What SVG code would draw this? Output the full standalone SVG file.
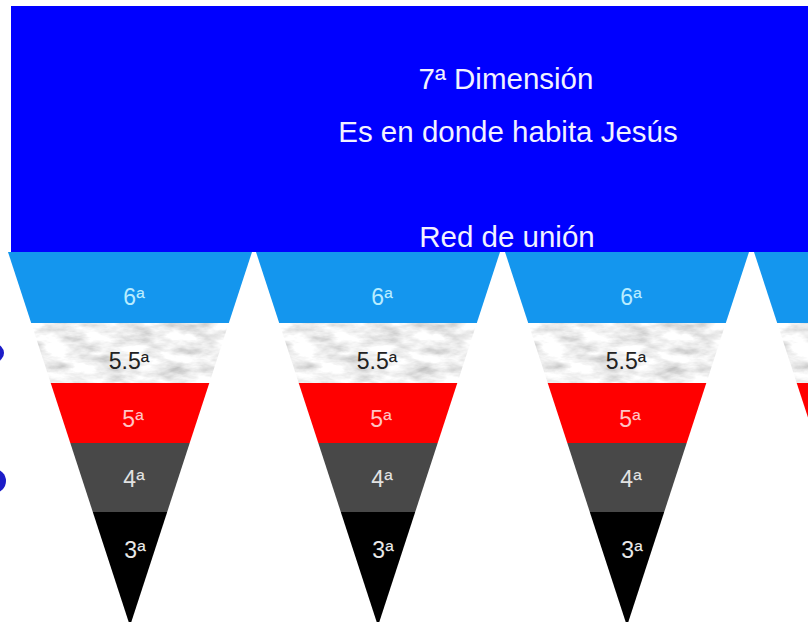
<svg xmlns="http://www.w3.org/2000/svg" xmlns:xlink="http://www.w3.org/1999/xlink" width="808" height="622" viewBox="0 0 808 622">
<style>
.hdr{font-family:"Liberation Sans",Arial,sans-serif;font-size:29.5px;fill:#f2f2ff;text-anchor:middle}
.lbl{font-family:"Liberation Sans",Arial,sans-serif;font-size:23px;text-anchor:middle}
.l6{fill:#b8ecff}.l55{fill:#222222}.l5{fill:#ffc4c4}.l4{fill:#e2e2e2}.l3{fill:#e8e8e8}
.b6{fill:#1496ee}.b5{fill:#ff0000}.b4{fill:#484848}.b3{fill:#000000}.bm{fill:#dddddd}
</style>
<defs>
<filter id="marble" x="0" y="0" width="1" height="1" filterUnits="objectBoundingBox">
<feTurbulence type="fractalNoise" baseFrequency="0.035 0.09" numOctaves="4" seed="7" result="n"/>
<feColorMatrix in="n" type="matrix" values="0.9 0 0 0 0.42  0.9 0 0 0 0.42  0.9 0 0 0 0.42  0 0 0 0 1" result="g"/>
<feComposite in="g" in2="SourceGraphic" operator="in"/>
</filter>
<g id="tri">
<polygon class="b6" points="-122,252 122,252 98.8,323 -98.8,323"/>
<polygon class="bm" filter="url(#marble)" points="-98.8,323 98.8,323 79.3,383 -79.3,383"/>
<polygon class="b5" points="-79.3,383 79.3,383 59.7,443 -59.7,443"/>
<polygon class="b4" points="-59.7,443 59.7,443 37.2,512 -37.2,512"/>
<polygon class="b3" points="-37.2,512 37.2,512 0,626"/>
</g>
</defs>
<rect x="0" y="0" width="808" height="622" fill="#ffffff"/>
<g id="dimension7">
<rect x="11" y="6" width="797" height="246" fill="#0000ff"/>
<text class="hdr" x="506" y="89">7ª Dimensión</text>
<text class="hdr" x="508" y="142">Es en donde habita Jesús</text>
<text class="hdr" x="507" y="247">Red de unión</text>
</g>
<g id="cone1" transform="translate(130,0)">
<use xlink:href="#tri" href="#tri"/>
<text class="lbl l6" x="4" y="305">6ª</text>
<text class="lbl l55" x="-1" y="369">5.5ª</text>
<text class="lbl l5" x="3" y="427">5ª</text>
<text class="lbl l4" x="4" y="487">4ª</text>
<text class="lbl l3" x="5" y="558">3ª</text>
</g>
<g id="cone2" transform="translate(378,0)">
<use xlink:href="#tri" href="#tri"/>
<text class="lbl l6" x="4" y="305">6ª</text>
<text class="lbl l55" x="-1" y="369">5.5ª</text>
<text class="lbl l5" x="3" y="427">5ª</text>
<text class="lbl l4" x="4" y="487">4ª</text>
<text class="lbl l3" x="5" y="558">3ª</text>
</g>
<g id="cone3" transform="translate(627,0)">
<use xlink:href="#tri" href="#tri"/>
<text class="lbl l6" x="4" y="305">6ª</text>
<text class="lbl l55" x="-1" y="369">5.5ª</text>
<text class="lbl l5" x="3" y="427">5ª</text>
<text class="lbl l4" x="4" y="487">4ª</text>
<text class="lbl l3" x="5" y="558">3ª</text>
</g>
<g id="cone4" transform="translate(876,0)">
<use xlink:href="#tri" href="#tri"/>
</g>
<g id="edge-dots">
<circle cx="-5" cy="353" r="9" fill="#1c1cc8"/>
<circle cx="-6" cy="481" r="12" fill="#1c1cc8"/>
</g>
<g id="connectors"/>
</svg>
